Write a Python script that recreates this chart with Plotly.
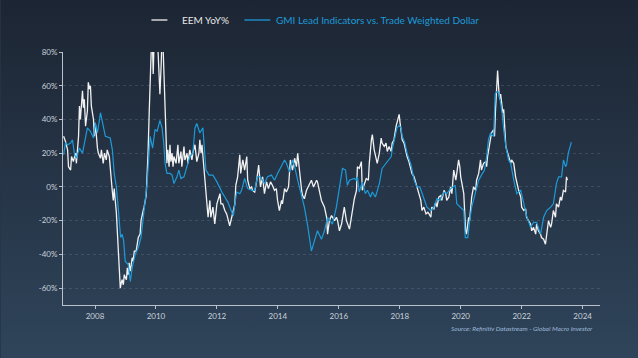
import base64
import plotly.graph_objects as go

# ---------------- data ----------------
eem_year = [
    2006.97, 2007.03, 2007.10, 2007.13, 2007.20, 2007.23, 2007.29, 2007.36, 2007.39, 2007.46,
    2007.49, 2007.52, 2007.59, 2007.62, 2007.65, 2007.69, 2007.75, 2007.78, 2007.82, 2007.85,
    2007.88, 2007.95, 2007.98, 2008.01, 2008.08, 2008.11, 2008.18, 2008.21, 2008.27, 2008.31,
    2008.37, 2008.40, 2008.47, 2008.50, 2008.54, 2008.57, 2008.60, 2008.63, 2008.70, 2008.73,
    2008.76, 2008.80, 2008.83, 2008.86, 2008.89, 2008.93, 2008.96, 2009.03, 2009.06, 2009.09,
    2009.12, 2009.16, 2009.22, 2009.25, 2009.29, 2009.35, 2009.38, 2009.42, 2009.48, 2009.51,
    2009.58, 2009.61, 2009.68, 2009.71, 2009.74, 2009.78, 2009.81, 2009.84, 2009.87, 2009.91,
    2009.94, 2010.00, 2010.04, 2010.07, 2010.10, 2010.13, 2010.17, 2010.20, 2010.23, 2010.26,
    2010.30, 2010.33, 2010.36, 2010.39, 2010.43, 2010.46, 2010.49, 2010.53, 2010.56, 2010.59,
    2010.66, 2010.72, 2010.75, 2010.82, 2010.85, 2010.92, 2010.95, 2011.02, 2011.05, 2011.11,
    2011.18, 2011.21, 2011.28, 2011.34, 2011.41, 2011.44, 2011.48, 2011.51, 2011.54, 2011.61,
    2011.64, 2011.71, 2011.77, 2011.80, 2011.87, 2011.93, 2012.00, 2012.03, 2012.10, 2012.13,
    2012.19, 2012.26, 2012.32, 2012.42, 2012.49, 2012.59, 2012.62, 2012.68, 2012.75, 2012.78,
    2012.85, 2012.91, 2012.98, 2013.01, 2013.08, 2013.14, 2013.17, 2013.24, 2013.30, 2013.37,
    2013.43, 2013.50, 2013.56, 2013.63, 2013.69, 2013.76, 2013.82, 2013.89, 2013.95, 2013.99,
    2014.05, 2014.12, 2014.15, 2014.22, 2014.28, 2014.35, 2014.41, 2014.48, 2014.55, 2014.61,
    2014.65, 2014.71, 2014.78, 2014.81, 2014.87, 2014.94, 2015.04, 2015.10, 2015.17, 2015.27,
    2015.30, 2015.37, 2015.43, 2015.53, 2015.60, 2015.63, 2015.69, 2015.76, 2015.86, 2015.92,
    2015.96, 2016.02, 2016.09, 2016.18, 2016.25, 2016.35, 2016.41, 2016.45, 2016.51, 2016.58,
    2016.61, 2016.67, 2016.74, 2016.77, 2016.84, 2016.90, 2016.97, 2017.00, 2017.07, 2017.10,
    2017.16, 2017.23, 2017.26, 2017.33, 2017.39, 2017.42, 2017.49, 2017.55, 2017.59, 2017.65,
    2017.72, 2017.75, 2017.81, 2017.88, 2017.91, 2017.95, 2017.98, 2018.01, 2018.08, 2018.14,
    2018.21, 2018.24, 2018.30, 2018.37, 2018.40, 2018.47, 2018.53, 2018.56, 2018.63, 2018.69,
    2018.73, 2018.79, 2018.86, 2018.92, 2018.96, 2019.02, 2019.05, 2019.12, 2019.18, 2019.22,
    2019.28, 2019.35, 2019.38, 2019.45, 2019.51, 2019.54, 2019.61, 2019.67, 2019.71, 2019.77,
    2019.84, 2019.87, 2019.93, 2019.97, 2020.00, 2020.06, 2020.10, 2020.16, 2020.19, 2020.26,
    2020.29, 2020.36, 2020.42, 2020.49, 2020.52, 2020.59, 2020.65, 2020.68, 2020.75, 2020.82,
    2020.85, 2020.88, 2020.91, 2020.98, 2021.01, 2021.08, 2021.11, 2021.14, 2021.18, 2021.21,
    2021.25, 2021.28, 2021.31, 2021.38, 2021.41, 2021.44, 2021.48, 2021.51, 2021.57, 2021.64,
    2021.67, 2021.74, 2021.80, 2021.84, 2021.90, 2021.97, 2022.00, 2022.07, 2022.13, 2022.16,
    2022.23, 2022.29, 2022.33, 2022.39, 2022.46, 2022.49, 2022.55, 2022.62, 2022.65, 2022.72,
    2022.78, 2022.82, 2022.88, 2022.95, 2022.98, 2023.04, 2023.11, 2023.14, 2023.21, 2023.27,
    2023.31, 2023.37, 2023.44, 2023.47, 2023.50,
]
eem_yoy = [
    30, 27, 22, 12, 10, 18, 15, 20, 14, 30,
    48, 40, 57, 47, 52, 36, 45, 62, 58, 60,
    48, 40, 30, 38, 23, 20, 17, 22, 14, 20,
    16, 22, 18, 10, 5, -3, -8, -1, -15, -27,
    -35, -50, -60, -57, -55, -58, -52, -55, -48, -52,
    -45, -50, -42, -44, -38, -38, -33, -30, -28, -20,
    -14, -12, -5, 5, 20, 45, 70, 85, 95, 67,
    88, 85, 90, 80, 70, 55, 72, 90, 85, 65,
    52, 30, 14, 22, 12, 25, 15, 20, 12, 18,
    14, 25, 14, 21, 12, 24, 16, 20, 14, 22,
    16, 20, 25, 15, 20, 28, 20, 25, 18, 2,
    -2, -18, -8, -18, -12, -22, -10, -8, -4, -10,
    -10, -14, -16, -23, -17, -10, 1, 6, 19, 8,
    16, 10, 18, 4, -1, 0, -2, -3, 3, 13,
    0, 6, -4, 3, -1, 3, 1, -2, -1, -8,
    -14, -8, -10, -1, -3, 0, 16, 10, 17, 12,
    20, 8, -2, -5, -7, -2, 2, 4, 0, 4,
    3, -3, -8, -12, -18, -28, -20, -17, -20, -18,
    -20, -26, -22, -12, -20, -25, -18, -16, -7, -2,
    12, 11, 15, -2, 2, 5, 4, 14, 28, 31,
    22, 16, 14, 20, 29, 26, 24, 26, 21, 24,
    21, 26, 28, 36, 38, 41, 43, 38, 28, 26,
    20, 18, 15, 10, 8, 6, 2, 0, -4, -8,
    -14, -12, -16, -15, -16, -18, -12, -13, -9, -12,
    -6, -5, -8, -2, -4, -8, -6, 0, -4, 10,
    4, 8, 16, 12, 6, 0, -4, -26, -28, -18,
    -20, -6, 0, -2, 4, 8, 16, 10, 14, 15,
    12, 18, 22, 28, 32, 34, 30, 45, 60, 69,
    57, 52, 55, 44, 46, 36, 24, 22, 18, 14,
    16, 14, 6, 2, -2, -6, -12, -14, -13, -18,
    -20, -22, -26, -24, -28, -22, -26, -28, -30, -31,
    -34, -28, -20, -24, -22, -14, -18, -10, -12, -6,
    -8, -2, -3, 6, 4,
]

gmi_year = [
    2006.97, 2007.03, 2007.10, 2007.20, 2007.26, 2007.33, 2007.39, 2007.49, 2007.59, 2007.69,
    2007.75, 2007.85, 2007.95, 2008.01, 2008.08, 2008.18, 2008.27, 2008.34, 2008.50, 2008.57,
    2008.63, 2008.70, 2008.76, 2008.80, 2008.84, 2008.89, 2008.94, 2008.99, 2009.09, 2009.16,
    2009.22, 2009.32, 2009.42, 2009.51, 2009.58, 2009.64, 2009.71, 2009.76, 2009.81, 2009.89,
    2009.97, 2010.04, 2010.13, 2010.20, 2010.25, 2010.30, 2010.36, 2010.46, 2010.53, 2010.59,
    2010.69, 2010.75, 2010.82, 2010.92, 2011.02, 2011.11, 2011.21, 2011.28, 2011.34, 2011.44,
    2011.54, 2011.64, 2011.74, 2011.87, 2012.00, 2012.10, 2012.19, 2012.26, 2012.36, 2012.49,
    2012.54, 2012.59, 2012.65, 2012.75, 2012.81, 2012.91, 2013.01, 2013.14, 2013.24, 2013.33,
    2013.43, 2013.56, 2013.66, 2013.79, 2013.89, 2013.99, 2014.12, 2014.22, 2014.28, 2014.38,
    2014.48, 2014.55, 2014.65, 2014.78, 2014.87, 2014.97, 2015.04, 2015.10, 2015.20, 2015.30,
    2015.43, 2015.53, 2015.63, 2015.79, 2015.92, 2016.02, 2016.12, 2016.22, 2016.28, 2016.35,
    2016.51, 2016.58, 2016.61, 2016.67, 2016.77, 2016.87, 2016.94, 2017.04, 2017.10, 2017.20,
    2017.33, 2017.42, 2017.55, 2017.72, 2017.75, 2017.81, 2017.88, 2017.91, 2017.98, 2018.04,
    2018.08, 2018.17, 2018.24, 2018.37, 2018.47, 2018.56, 2018.66, 2018.79, 2018.89, 2019.02,
    2019.12, 2019.22, 2019.32, 2019.45, 2019.54, 2019.67, 2019.77, 2019.82, 2019.87, 2020.03,
    2020.10, 2020.15, 2020.23, 2020.31, 2020.36, 2020.49, 2020.59, 2020.68, 2020.78, 2020.85,
    2020.91, 2020.98, 2021.01, 2021.08, 2021.13, 2021.18, 2021.25, 2021.31, 2021.36, 2021.41,
    2021.48, 2021.57, 2021.64, 2021.74, 2021.84, 2021.97, 2022.07, 2022.16, 2022.29, 2022.39,
    2022.49, 2022.55, 2022.62, 2022.65, 2022.72, 2022.82, 2022.95, 2023.04, 2023.11, 2023.14,
    2023.21, 2023.31, 2023.37, 2023.44, 2023.47, 2023.53, 2023.63,
]
gmi_value = [
    19, 26, 25, 26, 28, 19, 17, 23, 20, 31,
    35, 33, 29, 38, 32, 44, 35, 30, 29, 22,
    8, 0, -12, -24, -30, -28, -32, -44, -46, -56,
    -48, -40, -36, -30, -18, -10, 2, 16, 30, 23,
    34, 33, 39.5, 35, 27, 14, 8, 8, 7, 2,
    6, 10, 5, 6, 12, 18, 20, 35, 37.6, 32,
    35, 10, 7, 7, 3, -1, -4, -6, -9, -15,
    -17, -10, -3, -4, -2, 5, -1, -2, -2, 6,
    6, 2, 6, 7, 4, 8, 13, 16, 14, 9,
    16, 12, 4, -6, -12, -22, -30, -38, -32, -26,
    -31, -26, -18, -22, -12, 0, 11, 10, 1, 4,
    5, 4, 6, -3, 3, -4, -2, -6, -3, -6,
    2, 11, 14, 18, 22, 27, 32, 35, 36.5, 35,
    30, 26, 20, 13, 4, 0, 0, -7, -12, -14,
    -12, -7, -8, -3, -4, -1, 0, 1, -10, -13,
    -14, -30, -30, -18, -12, -3, 4, 7, 10, 18,
    28, 32, 31, 30, 55, 56.5, 56, 49.5, 43.5, 34,
    24, 16, 14, 4, -4, -2, -10, -17, -24, -21,
    -21, -24, -28, -25, -18, -14, -12, -10, -2, 2,
    6, 6, 16, 12, 13, 20, 26.6,
]

year_ticks = [2008, 2010, 2012, 2014, 2016, 2018, 2020, 2022, 2024]
year_labels = ["2008", "2010", "2012", "2014", "2016", "2018", "2020", "2022", "2024"]
pct_ticks = [-60, -40, -20, 0, 20, 40, 60, 80]
pct_labels = ["-60%", "-40%", "-20%", "0%", "20%", "40%", "60%", "80%"]

series_names = ["EEM YoY%", "GMI Lead Indicators vs. Trade Weighted Dollar"]
source_text = "Source: Refinitiv Datastream - Global Macro Investor"

# ---------------- styling ----------------
WHITE = "#f2f2f2"
BLUE = "#1d9ad8"
FONT = "Lato"
W, H = 638, 358
L, R, T, B = 62.5, 38, 52, 53
pw, ph = W - L - R, H - T - B

def px_x(px):
    return (px - L) / pw

def px_y(py):
    return 1 + (T - py) / ph

svg = (
    '<svg xmlns="http://www.w3.org/2000/svg" width="638" height="358" preserveAspectRatio="none">'
    '<defs><linearGradient id="g" x1="0" y1="0" x2="0" y2="1">'
    '<stop offset="0" stop-color="#1c2533"/><stop offset="1" stop-color="#2f445a"/>'
    '</linearGradient></defs><rect width="638" height="358" fill="url(#g)"/></svg>'
)
bg_src = "data:image/svg+xml;base64," + base64.b64encode(svg.encode()).decode()

fig = go.Figure()
fig.add_trace(go.Scatter(x=eem_year, y=eem_yoy, mode="lines", name=series_names[0],
                         line=dict(color=WHITE, width=1.3), showlegend=False))
fig.add_trace(go.Scatter(x=gmi_year, y=gmi_value, mode="lines", name=series_names[1],
                         line=dict(color=BLUE, width=1.2), showlegend=False))

axis_col = "#b9c2cc"
fig.update_layout(
    width=W, height=H,
    margin=dict(l=L, r=R, t=T, b=B, pad=0),
    paper_bgcolor="#263446",
    plot_bgcolor="rgba(0,0,0,0)",
    font=dict(family=FONT, color="#c9d1da", size=8),
    images=[dict(source=bg_src, xref="paper", yref="paper",
                 x=px_x(0), y=px_y(0), sizex=W / pw, sizey=H / ph,
                 xanchor="left", yanchor="top", sizing="stretch", layer="below")],
    xaxis=dict(range=[2006.95, 2024.57], tickmode="array", tickvals=year_ticks,
               ticktext=year_labels, showgrid=False, zeroline=False,
               showline=True, linecolor=axis_col, linewidth=1,
               ticks="outside", ticklen=3, tickcolor=axis_col,
               tickfont=dict(size=8, color="#c9d1da")),
    yaxis=dict(range=[-70, 80], tickmode="array", tickvals=pct_ticks,
               ticktext=pct_labels, showgrid=True,
               gridcolor="rgba(170,190,210,0.18)", gridwidth=1, griddash="dot",
               zeroline=False, showline=True, linecolor=axis_col, linewidth=1,
               ticks="outside", ticklen=3, tickcolor=axis_col,
               tickfont=dict(size=8, color="#c9d1da")),
    showlegend=False,
)

# legend (drawn manually to match line-sample widths and coloured labels)
ly = px_y(20)
fig.add_shape(type="line", xref="paper", yref="paper", x0=px_x(151), x1=px_x(167),
              y0=ly, y1=ly, line=dict(color=WHITE, width=1.3))
fig.add_shape(type="line", xref="paper", yref="paper", x0=px_x(244), x1=px_x(270),
              y0=ly, y1=ly, line=dict(color=BLUE, width=1.3))
fig.add_annotation(text=series_names[0], xref="paper", yref="paper", x=px_x(180), y=ly,
                   xanchor="left", yanchor="middle", showarrow=False,
                   font=dict(family=FONT, size=10, color="#e6e6e6"))
fig.add_annotation(text=series_names[1], xref="paper", yref="paper", x=px_x(274), y=ly,
                   xanchor="left", yanchor="middle", showarrow=False,
                   font=dict(family=FONT, size=10, color=BLUE))
fig.add_annotation(text="<i>" + source_text + "</i>", xref="paper", yref="paper",
                   x=px_x(595), y=px_y(328), xanchor="right", yanchor="middle",
                   showarrow=False, font=dict(family=FONT, size=6.5, color="#9bb7d6"))

fig.write_html("out.html", config={"displayModeBar": False},
               post_script="document.body.style.margin='0px';")
